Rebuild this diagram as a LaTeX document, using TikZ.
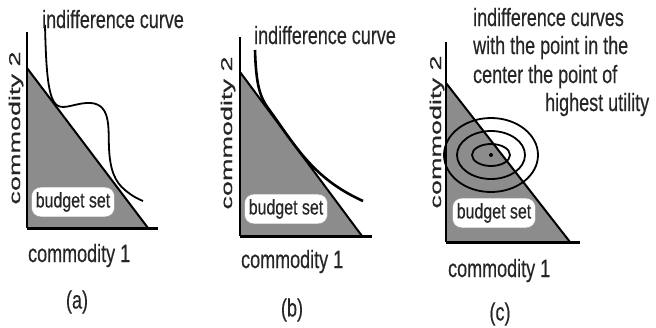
\documentclass[tikz,border=0pt]{standalone}
\usepackage{fontspec}
\setmainfont{Liberation Sans}[FakeBold=0.5]
\usetikzlibrary{positioning}
\definecolor{setgray}{gray}{0.55}
\tikzset{lbl/.style={inner sep=0pt,text=black!85,font=\fontsize{25}{29}\selectfont,xscale=0.72}}
\tikzset{vlbl/.style={inner sep=0pt,text=black!85,font=\fontsize{27}{30}\selectfont,rotate=90,yscale=0.58}}
\tikzset{budget/.style={fill=white,draw=black!40,line width=0.5pt,rounded corners=9pt,inner xsep=5.5pt,inner ysep=5pt,text=black!85,font=\fontsize{21}{24}\selectfont,xscale=0.76}}
\tikzset{hyp/.style={line width=2pt}}
\tikzset{icurve/.style={line width=1.8pt}}

\begin{document}
\begin{tikzpicture}[x=1pt,y=-1pt]
        \useasboundingbox (0,0) rectangle (656,327);
        % (a)
        \coordinate (a-o) at (27,228);
        \coordinate (a-top) at (27,32);
        \coordinate (a-apex) at (27,68);
        \coordinate (a-end) at (148,228);
        \coordinate (a-xend) at (158,228);
        \fill[setgray] (a-o) -- (a-apex) -- (a-end) -- cycle;
        \draw[hyp] (a-apex) -- (a-end);
        \draw[line width=1.2pt] (a-top) -- (a-o);
        \draw[line width=3pt] (a-o) -- (a-xend);
        \draw[icurve] (45,25) .. controls (46,70) and (48,92) .. (54,102)
          .. controls (60,112) and (72,104) .. (86,103)
          .. controls (112,101) and (108,128) .. (109,148)
          .. controls (110,170) and (115,182) .. (125,190)
          .. controls (132,196) and (138,199) .. (143,201);
        \node(ica)[lbl,anchor=base west] at (42,28) {indifference curve};
        \node(c2a)[vlbl] at (16,128) {commodity 2};
        \node(c1a)[lbl,anchor=base west] at (28,262) {commodity 1};
        \node(bsa)[budget] at (73,202) {budget set};
        \node(la)[lbl] at (77,302) {(a)};
        % (b)
        \coordinate (b-o) at (240,236);
        \coordinate (b-top) at (240,37);
        \coordinate (b-apex) at (240,72);
        \coordinate (b-end) at (362,236);
        \coordinate (b-xend) at (372,236);
        \fill[setgray] (b-o) -- (b-apex) -- (b-end) -- cycle;
        \draw[hyp] (b-apex) -- (b-end);
        \draw[line width=1.2pt] (b-top) -- (b-o);
        \draw[line width=3pt] (b-o) -- (b-xend);
        \draw[icurve,line width=2.6pt] (255,50) .. controls (256,85) and (260,97) .. (268,108)
          .. controls (295,145) and (312,178) .. (363,201);
        \node(icb)[lbl,anchor=base west] at (254,44) {indifference curve};
        \node(c2b)[vlbl] at (228,133) {commodity 2};
        \node(c1b)[lbl,anchor=base west] at (241,268) {commodity 1};
        \node(bsb)[budget] at (286,209) {budget set};
        \node(lb)[lbl] at (292,310) {(b)};
        % (c)
        \coordinate (c-o) at (446,242);
        \coordinate (c-top) at (446,42);
        \coordinate (c-apex) at (446,83);
        \coordinate (c-end) at (570,242);
        \coordinate (c-xend) at (580,242);
        \coordinate (best) at (491,155);
        \fill[setgray] (c-o) -- (c-apex) -- (c-end) -- cycle;
        \draw[hyp] (c-apex) -- (c-end);
        \draw[line width=1.2pt] (c-top) -- (c-o);
        \draw[line width=3pt] (c-o) -- (c-xend);
        \foreach \rx/\ry in {19/11,34/24,47/37}
          \draw[icurve] (best) ellipse [x radius=\rx, y radius=\ry];
        \fill (best) circle [radius=2];
        \node(icc1)[lbl,anchor=base west] at (473,26) {indifference curves};
        \node(icc2)[lbl,anchor=base west] at (473,54) {with the point in the};
        \node(icc3)[lbl,anchor=base west] at (473,83) {center the point of};
        \node(icc4)[lbl,anchor=base west] at (545,111) {highest utility};
        \node(c2c)[vlbl] at (437,132) {commodity 2};
        \node(c1c)[lbl,anchor=base west] at (448,277) {commodity 1};
        \node(bsc)[budget] at (494,213) {budget set};
        \node(lc)[lbl] at (500,314) {(c)};
      \end{tikzpicture}
\end{document}
